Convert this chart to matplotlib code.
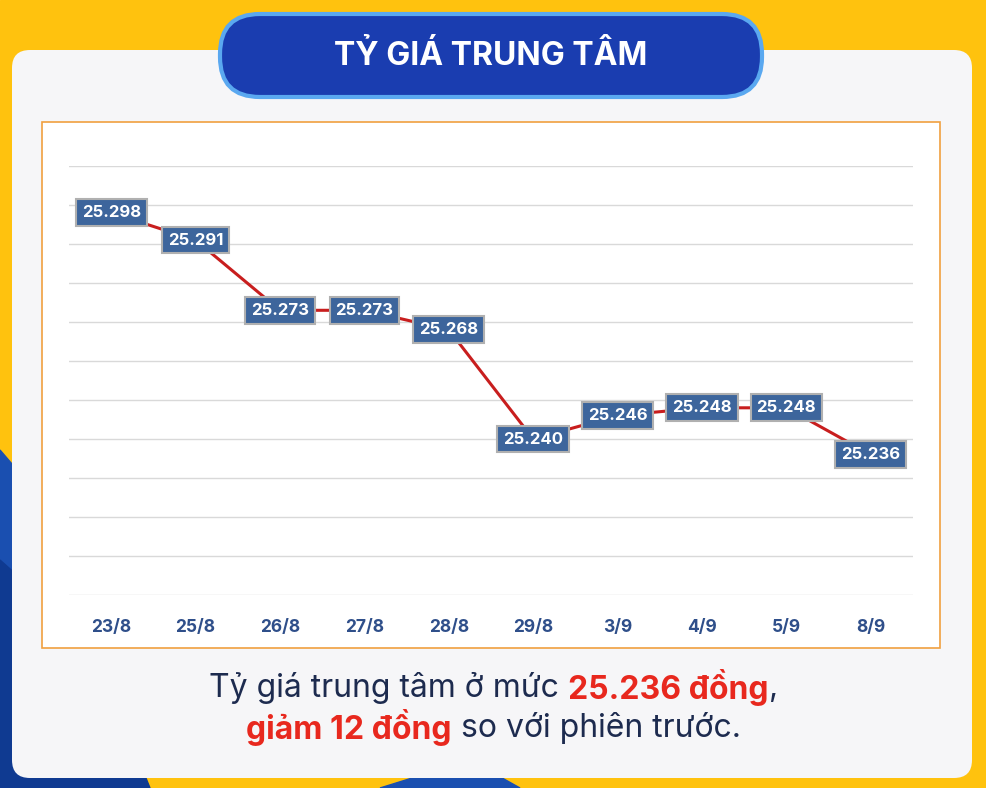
import matplotlib
matplotlib.use("Agg")
import matplotlib.pyplot as plt
from matplotlib.patches import FancyBboxPatch, Polygon, Rectangle

dates = ["23/8", "25/8", "26/8", "27/8", "28/8", "29/8", "3/9", "4/9", "5/9", "8/9"]
rates = [25.298, 25.291, 25.273, 25.273, 25.268, 25.240, 25.246, 25.248, 25.248, 25.236]
title = "TỶ GIÁ TRUNG TÂM"
line1 = [("Tỷ giá trung tâm ở mức ", "#1d2b4f", "normal"), ("25.236 đồng", "#e8281e", "bold"), (",", "#1d2b4f", "normal")]
line2 = [("giảm 12 đồng", "#e8281e", "bold"), (" so với phiên trước.", "#1d2b4f", "normal")]

W, H = 987, 788
plt.rcParams["font.family"] = ["Inter", "DejaVu Sans"]
fig = plt.figure(figsize=(W / 100, H / 100), dpi=100)

bg = fig.add_axes([0, 0, 1, 1])
bg.set_xlim(0, W)
bg.set_ylim(H, 0)
bg.axis("off")
bg.add_patch(Rectangle((0, 0), W, H, color="#ffc20e"))
bg.add_patch(Polygon([(0, 450), (60, 520), (140, 788), (0, 788)], color="#1a4fb0"))
bg.add_patch(Polygon([(0, 560), (90, 640), (150, 788), (0, 788)], color="#0f3a91"))
bg.add_patch(Polygon([(380, 788), (470, 760), (520, 788)], color="#1a4fb0"))
bg.add_patch(FancyBboxPatch((12, 50), 960, 728, boxstyle="round,pad=0,rounding_size=18",
                            fc="#f6f6f8", ec="none"))
bg.add_patch(FancyBboxPatch((42, 122), 898, 526, boxstyle="square,pad=0", fc="white",
                            ec="#f0a040", lw=1.2))
bg.add_patch(FancyBboxPatch((220, 14), 542, 83, boxstyle="round,pad=0,rounding_size=40",
                            fc="#1a3db0", ec="#5aa8f0", lw=3))
bg.text(491, 56, title, ha="center", va="center", color="white", fontsize=23, fontweight="bold")

ax = fig.add_axes([69 / W, 193 / H, 844 / W, 429 / H])
ax.set_xlim(-0.5, len(dates) - 0.5)
ax.set_ylim(25.200, 25.310)
ax.set_yticks([25.200 + 0.01 * i for i in range(12)])
ax.grid(axis="y", color="#d9d9d9", lw=1)
ax.tick_params(axis="y", left=False, labelleft=False)
ax.tick_params(axis="x", bottom=False, pad=14)
for s in ax.spines.values():
    s.set_visible(False)
ax.set_facecolor("none")
x = range(len(dates))
ax.plot(x, rates, color="#c81e1e", lw=2.2, zorder=2)
ax.set_xticks(list(x))
ax.set_xticklabels(dates, color="#2f4f8a", fontsize=12.5, fontweight="bold")
for i, v in zip(x, rates):
    ax.text(i, v, f"{v:.3f}", ha="center", va="center", fontsize=12, color="white",
            fontweight="bold", zorder=4,
            bbox=dict(boxstyle="square,pad=0.35", fc="#3d659c", ec="#b0b0b0", lw=1.5))

# mixed-colour caption lines, centered
fig.canvas.draw()
r = fig.canvas.get_renderer()
def mixed(parts, y):
    ts = [bg.text(0, y, s, color=c, fontweight=w, fontsize=23, va="center") for s, c, w in parts]
    widths = [t.get_window_extent(r).width for t in ts]
    xx = (W - sum(widths)) / 2
    for t, w in zip(ts, widths):
        t.set_x(xx)
        xx += w
mixed(line1, 688)
mixed(line2, 728)

fig.savefig("out.png", dpi=100)
